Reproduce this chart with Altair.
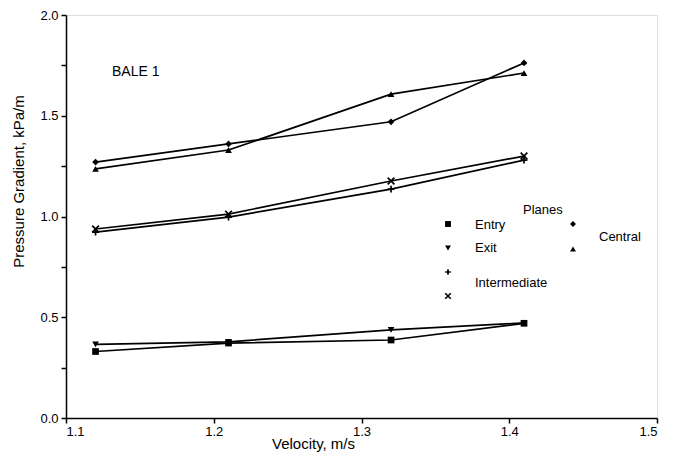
import altair as alt
import pandas as pd

velocity = [1.12, 1.21, 1.32, 1.41]
entry = [0.33, 0.372, 0.387, 0.47]
exit_ = [0.365, 0.378, 0.437, 0.472]
inter_plus = [0.922, 0.997, 1.136, 1.28]
inter_x = [0.938, 1.012, 1.176, 1.30]
central_diamond = [1.27, 1.36, 1.47, 1.762]
central_tri = [1.236, 1.33, 1.607, 1.712]

series = [
    ("Entry", entry, "square"),
    ("Exit", exit_, "triangle-down"),
    ("Intermediate +", inter_plus, "M-1,0L1,0M0,-1L0,1"),
    ("Intermediate x", inter_x, "M-1,-1L1,1M-1,1L1,-1"),
    ("Central diamond", central_diamond, "diamond"),
    ("Central triangle", central_tri, "triangle-up"),
]

rows = []
for name, vals, shp in series:
    for v, p in zip(velocity, vals):
        rows.append({"series": name, "v": v, "p": p, "shape": shp})
df = pd.DataFrame(rows)

FONT = "Liberation Sans"

xscale = alt.Scale(domain=[1.1, 1.5], nice=False, zero=False)
yscale = alt.Scale(domain=[0, 2.0], nice=False)

xaxis = alt.Axis(values=[1.1, 1.2, 1.3, 1.4, 1.5], format=".1f", grid=False,
                 title="Velocity, m/s", tickSize=5, labelPadding=2, domainWidth=1.5, tickWidth=1.5,
                 domainColor="black", tickColor="black", labelColor="black",
                 labelFontSize=13, titleFontSize=15, titleFontWeight="normal",
                 titleX=247, titleY=25, titleBaseline="middle", titleColor="black",
                 labelFont=FONT, titleFont=FONT)
yaxis = alt.Axis(values=[0, 0.25, 0.5, 0.75, 1.0, 1.25, 1.5, 1.75, 2.0], format=".1f",
                 labelExpr="(datum.value * 2) % 1 == 0 ? format(datum.value, '.1f') : ''",
                 grid=False, title="Pressure Gradient, kPa/m", tickSize=5, labelPadding=3,
                 domainWidth=1.5, tickWidth=1.5,
                 domainColor="black", tickColor="black", labelColor="black",
                 labelFontSize=13, titleFontSize=15, titleFontWeight="normal",
                 titleX=-40, titleY=166, titleColor="black", labelFont=FONT, titleFont=FONT)

base = alt.Chart(df)

lines = base.mark_line(color="black", strokeWidth=1.7).encode(
    x=alt.X("v:Q", scale=xscale, axis=xaxis),
    y=alt.Y("p:Q", scale=yscale, axis=yaxis),
    detail="series:N",
)

filled_shapes = ["square", "triangle-down", "diamond", "triangle-up"]
pts_filled = base.transform_filter(
    alt.FieldOneOfPredicate(field="shape", oneOf=filled_shapes)
).mark_point(filled=True, color="black", size=45, opacity=1).encode(
    x="v:Q", y="p:Q",
    shape=alt.Shape("shape:N", scale=None),
)
pts_cross = base.transform_filter(
    alt.FieldOneOfPredicate(field="shape", oneOf=["M-1,0L1,0M0,-1L0,1", "M-1,-1L1,1M-1,1L1,-1"])
).mark_point(filled=False, color="black", size=45, strokeWidth=1.7, opacity=1).encode(
    x="v:Q", y="p:Q",
    shape=alt.Shape("shape:N", scale=None),
)

# Legend (in-plot, manual)
leg_sym_names = ["Entry", "Exit", "Int+", "Intx", "CenD", "CenT"]
leg_sym_shapes = ["square", "triangle-down", "M-1,0L1,0M0,-1L0,1", "M-1,-1L1,1M-1,1L1,-1",
                  "diamond", "triangle-up"]
leg_sym_px = [382, 382, 382, 382, 507, 507]
leg_sym_py = [209, 233, 257, 281, 209, 234]
leg_sym = pd.DataFrame({"n": leg_sym_names, "shape": leg_sym_shapes,
                        "px": leg_sym_px, "py": leg_sym_py})
leg_filled = alt.Chart(leg_sym).transform_filter(
    alt.FieldOneOfPredicate(field="shape", oneOf=filled_shapes)
).mark_point(filled=True, color="black", size=35, opacity=1).encode(
    x=alt.X("px:Q", scale=None), y=alt.Y("py:Q", scale=None),
    shape=alt.Shape("shape:N", scale=None),
)
leg_cross = alt.Chart(leg_sym).transform_filter(
    alt.FieldOneOfPredicate(field="shape", oneOf=["M-1,0L1,0M0,-1L0,1", "M-1,-1L1,1M-1,1L1,-1"])
).mark_point(filled=False, color="black", size=30, strokeWidth=1.7, opacity=1).encode(
    x=alt.X("px:Q", scale=None), y=alt.Y("py:Q", scale=None),
    shape=alt.Shape("shape:N", scale=None),
)

leg_text_labels = ["Planes", "Entry", "Exit", "Intermediate", "Central"]
leg_text_px = [457, 409, 409, 409, 533]
leg_text_py = [195, 210, 233, 268, 222]
leg_txt = pd.DataFrame({"t": leg_text_labels, "px": leg_text_px, "py": leg_text_py})
leg_text = alt.Chart(leg_txt).mark_text(
    align="left", baseline="middle", fontSize=13, font=FONT, color="black"
).encode(x=alt.X("px:Q", scale=None), y=alt.Y("py:Q", scale=None), text="t:N")

bale = alt.Chart(pd.DataFrame({"t": ["BALE 1"]})).mark_text(
    align="left", baseline="middle", fontSize=14, font=FONT, color="black"
).encode(x=alt.value(46), y=alt.value(57), text="t:N")

chart = alt.layer(lines, pts_filled, pts_cross, leg_filled, leg_cross, leg_text, bale).properties(
    width=591, height=403,
    autosize=alt.AutoSizeParams(type="none"),
    padding={"left": 58, "top": 7, "right": 8, "bottom": 34},
).configure_view(stroke="black", strokeWidth=1.5).configure(background="white")

chart.save("out.html", embed_options={"renderer": "svg", "actions": False})
